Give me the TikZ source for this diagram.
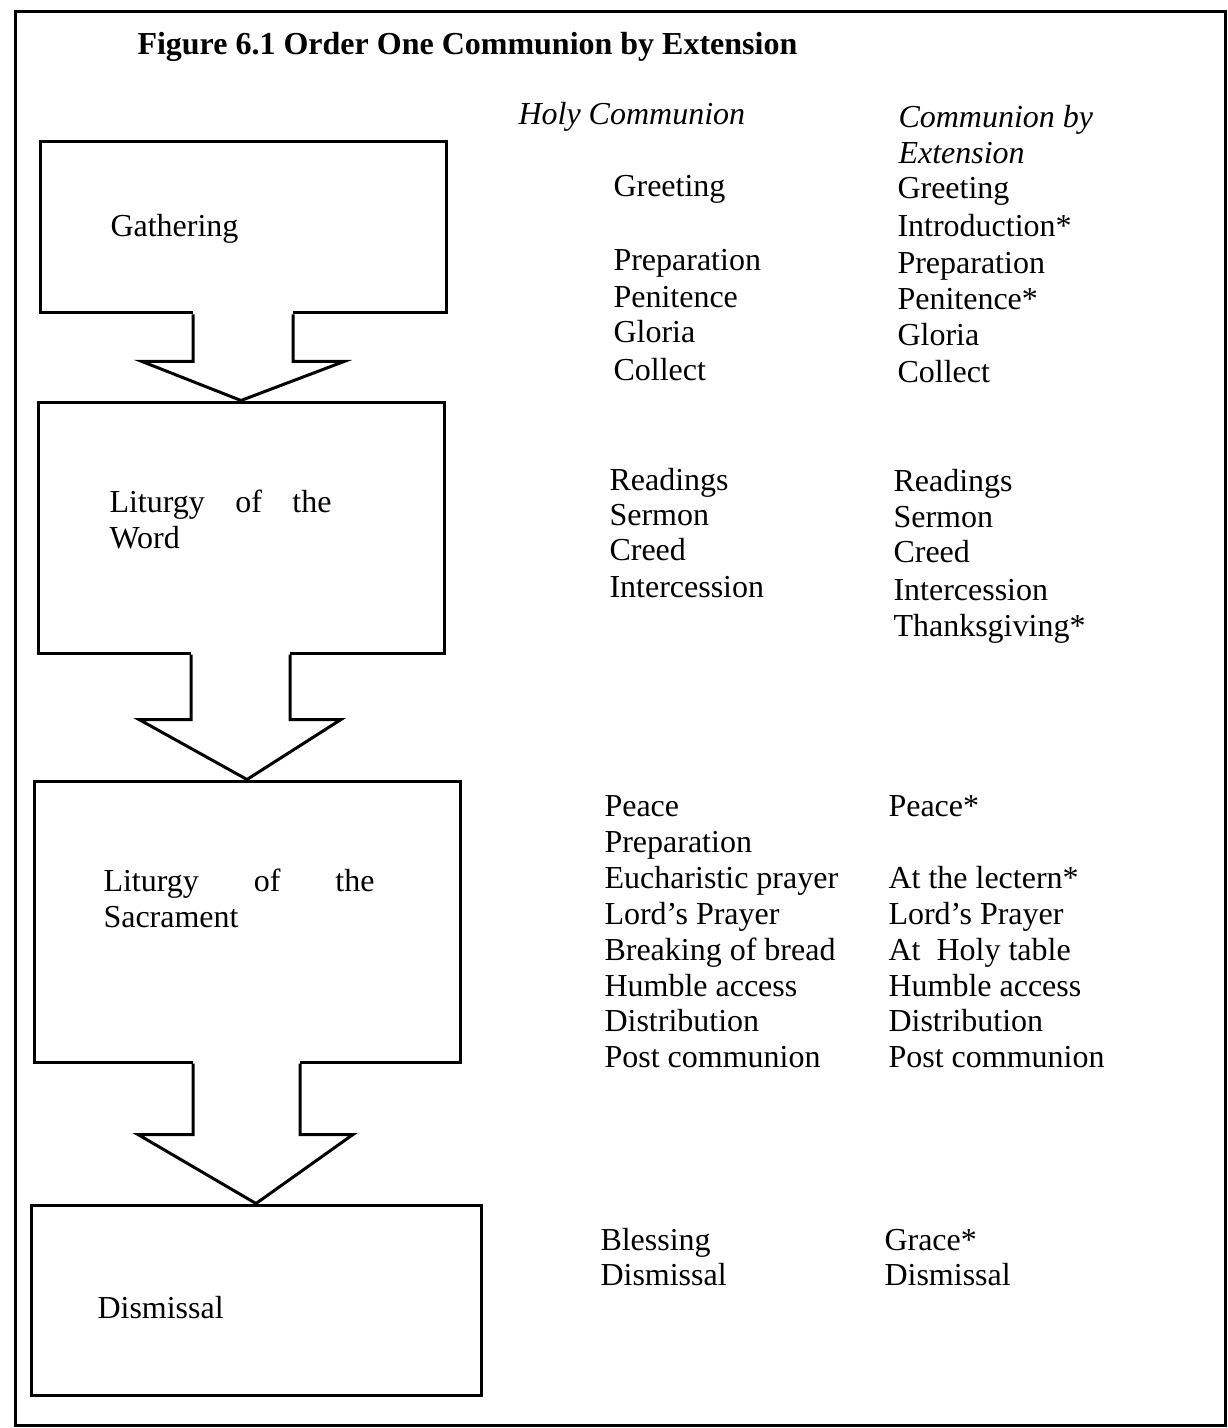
\documentclass[tikz,border=0pt]{standalone}
\usepackage{fontspec}
\setmainfont{Liberation Serif}
\usetikzlibrary{calc,fit}
\begin{document}
\begin{tikzpicture}[x=0.5pt,y=-0.5pt,
  line width=1.5pt, line join=miter,
  stage/.style={draw, inner sep=0pt},
  txt/.style={anchor=base west, inner sep=0pt, font=\fontsize{16}{18}\selectfont},
  head/.style={txt, font=\fontsize{16}{18}\selectfont\itshape}]
\useasboundingbox (0,0) rectangle (1227,1428);

% outer frame
\node[draw, inner sep=0pt, fit={(15,12) (1225,1425)}] (frame) {};

% title
\node[txt, font=\fontsize{16}{18}\selectfont\bfseries] (title) at (136,55)
  {Figure 6.1 Order One Communion by Extension};

% column headings
\node[head] (hc) at (517,125) {Holy Communion};
\node[head] (ce1) at (897,128) {Communion by};
\node[head] (ce2) at (897,164) {Extension};

% stage boxes
\node[stage, fit={(40,142) (446,313)}] (b1) {};
\node[stage, fit={(38,402) (444,653)}] (b2) {};
\node[stage, fit={(34,781) (460,1062)}] (b3) {};
\node[stage, fit={(31,1205) (481,1395)}] (b4) {};

% box labels
\node[txt] (l1) at (109,237) {Gathering};
\node[txt] (l2a) at (108,512) {\makebox[111pt][s]{Liturgy\hfill of\hfill the}};
\node[txt] (l2b) at (108,548) {Word};
\node[txt] (l3a) at (102,891) {\makebox[135.5pt][s]{Liturgy\hfill of\hfill the}};
\node[txt] (l3b) at (102,927) {Sacrament};
\node[txt] (l4) at (96,1318) {Dismissal};

% block arrows between the stages
\fill[white] ($(b1.south)+(-50,-3)$) rectangle ($(b1.south)+(50,3)$);
\draw ($(b1.south)+(-50,0)$) -- ($(b1.south)+(-50,47)$) -- ($(b1.south)+(-101,47)$)
  -- (b2.north) -- ($(b1.south)+(101,47)$) -- ($(b1.south)+(50,47)$) -- ($(b1.south)+(50,0)$);

\fill[white] ($(b2.south)+(-50,-3)$) rectangle ($(b2.south)+(49,3)$);
\draw ($(b2.south)+(-50,0)$) -- ($(b2.south)+(-50,65)$) -- ($(b2.south)+(-102,65)$)
  -- (b3.north) -- ($(b2.south)+(100,65)$) -- ($(b2.south)+(49,65)$) -- ($(b2.south)+(49,0)$);

\fill[white] ($(b3.south)+(-54,-3)$) rectangle ($(b3.south)+(53,3)$);
\draw ($(b3.south)+(-54,0)$) -- ($(b3.south)+(-54,71)$) -- ($(b3.south)+(-109,71)$)
  -- (b4.north) -- ($(b3.south)+(106,71)$) -- ($(b3.south)+(53,71)$) -- ($(b3.south)+(53,0)$);

% Holy Communion column
\foreach \t/\y [count=\i] in {Greeting/197, Preparation/271, Penitence/308, Gloria/343, Collect/380}
  \node[txt] (hA\i) at (612,\y) {\t};
\foreach \t/\y [count=\i] in {Readings/490, Sermon/525, Creed/560, Intercession/597}
  \node[txt] (hB\i) at (608,\y) {\t};
\foreach \t/\y [count=\i] in {Peace/816, Preparation/852, Eucharistic prayer/888, Lord’s Prayer/924,
    Breaking of bread/960, Humble access/996, Distribution/1031, Post communion/1067}
  \node[txt] (hC\i) at (603,\y) {\t};
\foreach \t/\y [count=\i] in {Blessing/1250, Dismissal/1285}
  \node[txt] (hD\i) at (599,\y) {\t};

% Communion by Extension column
\foreach \t/\y [count=\i] in {Greeting/199, Introduction*/237, Preparation/274, Penitence*/310, Gloria/345, Collect/382}
  \node[txt] (eA\i) at (896,\y) {\t};
\foreach \t/\y [count=\i] in {Readings/491, Sermon/527, Creed/562, Intercession/600, Thanksgiving*/636}
  \node[txt] (eB\i) at (892,\y) {\t};
\foreach \t/\y [count=\i] in {Peace*/816, At the lectern*/888, Lord’s Prayer/924,
    At\enspace Holy table/960, Humble access/996, Distribution/1031, Post communion/1067}
  \node[txt] (eC\i) at (887,\y) {\t};
\foreach \t/\y [count=\i] in {Grace*/1250, Dismissal/1285}
  \node[txt] (eD\i) at (883,\y) {\t};
\end{tikzpicture}
\end{document}
